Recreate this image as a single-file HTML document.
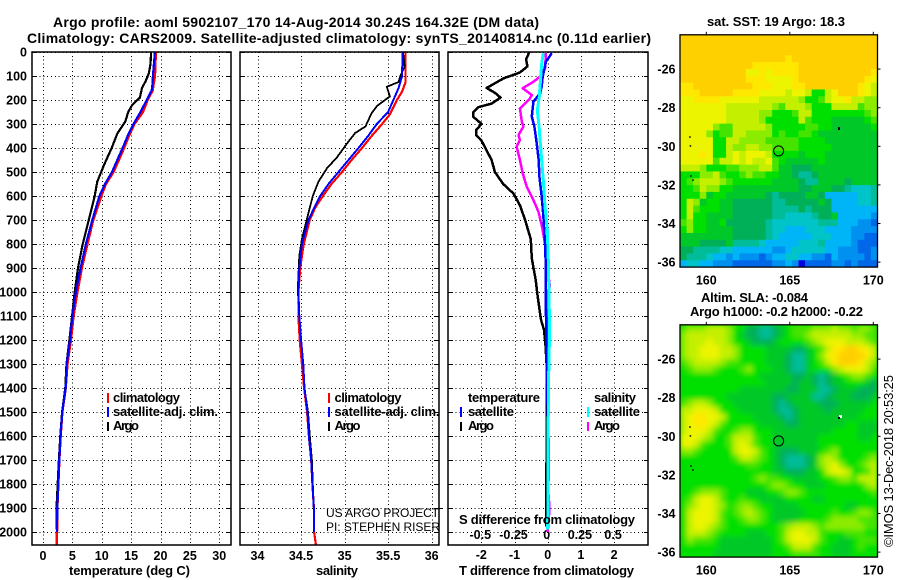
<!DOCTYPE html>
<html>
<head>
<meta charset="utf-8">
<title>Argo profile chart</title>
<style>
html,body{margin:0;padding:0;background:#fff;}
#chart{display:block;width:900px;height:580px;}
text{font-family:"Liberation Sans",sans-serif;fill:#000;}
.b{font-weight:bold;font-size:13px;}
.n{font-weight:bold;font-size:12.5px;}
.t{font-weight:bold;font-size:14px;}
.l{font-size:12px;}
.r{font-size:13px;}
</style>
</head>
<body>
<svg id="chart" xmlns="http://www.w3.org/2000/svg" width="900" height="580" viewBox="0 0 900 580">
<defs>
<clipPath id="clip-t"><rect x="32" y="52" width="199" height="493"/></clipPath>
<clipPath id="clip-s"><rect x="240" y="52" width="199" height="493"/></clipPath>
<clipPath id="clip-d"><rect x="448" y="52" width="200" height="493"/></clipPath>
<clipPath id="clip-sla"><rect x="680" y="324.8" width="197.5" height="232.3"/></clipPath>
<filter id="sla-smooth" filterUnits="userSpaceOnUse" x="660" y="305" width="240" height="275"><feGaussianBlur stdDeviation="2.6"/></filter>
</defs>
<rect x="0" y="0" width="900" height="580" fill="#fff"/>
<g id="maps"></g>
<g id="plots"></g>

<text class="t" x="53" y="27" textLength="486" lengthAdjust="spacing">Argo profile: aoml 5902107_170 14-Aug-2014 30.24S 164.32E (DM data)</text>
<text class="t" x="27" y="43" textLength="624" lengthAdjust="spacing">Climatology: CARS2009. Satellite-adjusted climatology: synTS_20140814.nc (0.11d earlier)</text>

<text class="b" x="69" y="575" textLength="121" lengthAdjust="spacing">temperature (deg C)</text>
<text class="b" x="316" y="575" textLength="42" lengthAdjust="spacing">salinity</text>
<text class="b" x="459" y="575" textLength="175" lengthAdjust="spacing">T difference from climatology</text>
<text class="b" x="459" y="524" textLength="176" lengthAdjust="spacing">S difference from climatology</text>

<g>
<rect x="107" y="393" width="2" height="10" fill="#f00"/>
<text class="b" x="113" y="402" textLength="67" lengthAdjust="spacing">climatology</text>
<rect x="107" y="407" width="2" height="10" fill="#00f"/>
<text class="b" x="113" y="416" textLength="105" lengthAdjust="spacing">satellite-adj. clim.</text>
<rect x="107" y="422" width="2" height="9" fill="#000"/>
<text class="b" x="113" y="430" textLength="26" lengthAdjust="spacing">Argo</text>
</g>
<g>
<rect x="328" y="393" width="2" height="10" fill="#f00"/>
<text class="b" x="334.5" y="402" textLength="67" lengthAdjust="spacing">climatology</text>
<rect x="328" y="407" width="2" height="10" fill="#00f"/>
<text class="b" x="334.5" y="416" textLength="105" lengthAdjust="spacing">satellite-adj. clim.</text>
<rect x="328" y="422" width="2" height="9" fill="#000"/>
<text class="b" x="334.5" y="430" textLength="26" lengthAdjust="spacing">Argo</text>
</g>
<g>
<text class="b" x="468" y="402" textLength="72" lengthAdjust="spacing">temperature</text>
<rect x="460" y="407" width="2" height="10" fill="#00f"/>
<text class="b" x="468" y="416" textLength="46" lengthAdjust="spacing">satellite</text>
<rect x="460" y="422" width="2" height="9" fill="#000"/>
<text class="b" x="468" y="430" textLength="26" lengthAdjust="spacing">Argo</text>
<text class="b" x="594" y="402" textLength="42" lengthAdjust="spacing">salinity</text>
<rect x="587" y="407" width="2" height="10" fill="#0ff"/>
<text class="b" x="594" y="416" textLength="46" lengthAdjust="spacing">satellite</text>
<rect x="587" y="422" width="2" height="9" fill="#f0f"/>
<text class="b" x="594" y="430" textLength="26" lengthAdjust="spacing">Argo</text>
</g>

<text class="l" x="326" y="517" textLength="113" lengthAdjust="spacing">US ARGO PROJECT</text>
<text class="l" x="326" y="531" textLength="114" lengthAdjust="spacing">PI: STEPHEN RISER</text>

<text class="b" x="707" y="26" textLength="138" lengthAdjust="spacing">sat. SST: 19 Argo: 18.3</text>
<text class="b" x="701" y="302" textLength="107" lengthAdjust="spacing">Altim. SLA: -0.084</text>
<text class="b" x="690" y="316" textLength="173" lengthAdjust="spacing">Argo h1000: -0.2 h2000: -0.22</text>
<text class="r" transform="translate(893,547) rotate(-90)" textLength="172" lengthAdjust="spacing">©IMOS 13-Dec-2018 20:53:25</text>
</svg>

<script>
/* ---------- profile data ---------- */
const depthLabels = [0,100,200,300,400,500,600,700,800,900,1000,1100,1200,1300,1400,1500,1600,1700,1800,1900,2000];
const tempTicks = [0,5,10,15,20,25,30];
const salTicks = [34,34.5,35,35.5,36];
const tDiffTicks = [-2,-1,0,1,2];
const sDiffTicks = [-0.5,-0.25,0,0.25,0.5];

const tempArgoDepth = [0,50,90,120,150,190,220,250,290,340,400,470,540,600,700,800,900,1000,1100,1200,1300,1400,1500,1600,1700,1800,1900,1990];
const tempArgo = [18.4,18.3,18.0,17.5,16.85,16.5,15.2,14.5,14,12.65,11.7,10.4,9.25,8.8,7.8,6.75,5.96,5.4,4.95,4.5,4.0,3.8,3.25,2.95,2.7,2.5,2.3,2.3];
const tempClimDepth = [0,100,130,160,200,250,300,350,400,500,550,600,700,800,900,1000,1100,1200,1300,1400,1500,1600,1700,1800,1900,2000,2054];
const tempClim = [19.2,19.05,18.85,18.65,17.8,17,15.55,14.6,13.8,12,10.7,9.9,8.55,7.55,6.6,5.85,5.2,4.75,4.15,3.86,3.29,3.0,2.78,2.6,2.44,2.38,2.3];
const tempSatDepth = [0,100,130,160,200,250,300,350,400,500,550,600,700,800,900,1000,1100,1200,1300,1400,1500,1600,1700,1800,1900,2000];
const tempSat = [19.05,18.7,18.65,18.5,17.65,16.6,15.4,14.4,13.55,11.75,10.55,9.6,8.4,7.3,6.4,5.6,5.0,4.6,4.03,3.86,3.29,3.0,2.78,2.6,2.44,2.38];

const salArgoDepth = [0,60,100,125,145,185,226,255,310,338,380,440,483,540,600,670,780,850,990,1100,1200,1300,1400,1500,1600,1700,1800,1900,1990];
const salArgo = [35.67,35.69,35.64,35.62,35.485,35.52,35.37,35.31,35.24,35.12,35.03,34.91,34.8,34.7,34.635,34.585,34.51,34.48,34.463,34.48,34.5,34.525,34.54,34.58,34.6,34.625,34.635,34.645,34.65];
const salClimDepth = [0,125,165,200,260,300,350,400,450,500,550,600,650,700,800,900,1000,1100,1200,1300,1400,1500,1600,1700,1800,1900,2000,2054];
const salClim = [35.7,35.7,35.66,35.6,35.52,35.43,35.31,35.2,35.08,34.97,34.85,34.75,34.66,34.6,34.53,34.49,34.47,34.47,34.485,34.51,34.535,34.57,34.59,34.616,34.63,34.647,34.65,34.67];
const salSatDepth = [0,100,150,200,250,300,350,400,450,500,550,600,650,700,800,900,1000,1100,1200,1300,1400,1500,1600,1700,1800,1900,2000];
const salSat = [35.665,35.66,35.62,35.56,35.5,35.37,35.27,35.16,35.045,34.93,34.815,34.72,34.65,34.585,34.51,34.48,34.47,34.48,34.5,34.525,34.54,34.574,34.59,34.616,34.63,34.647,34.65];

const tDiffArgoDepth = [0,30,60,85,110,150,170,190,215,230,250,270,300,325,345,370,410,450,500,550,590,640,700,780,860,950,1010,1090,1117,1158,1214,1311,1650,1867,1978];
const tDiffArgo = [-0.55,-0.65,-0.61,-0.83,-1.33,-1.84,-1.59,-1.42,-1.69,-2.09,-2.24,-2.24,-1.99,-2.16,-2.16,-1.99,-1.84,-1.69,-1.59,-1.34,-1.03,-0.83,-0.68,-0.51,-0.48,-0.36,-0.31,-0.23,-0.2,-0.11,-0.07,-0.03,-0.03,-0.05,-0.05];
const tDiffSatDepth = [5,40,103,144,172,207,269,311,380,450,519,603,686,797,880,1103,1200,1500,1990];
const tDiffSat = [0.12,-0.05,-0.15,-0.18,-0.23,-0.43,-0.48,-0.4,-0.33,-0.27,-0.25,-0.18,-0.13,-0.08,-0.06,-0.05,-0.05,0,0];
const sDiffArgoDepth = [5,68,103,124,151,179,193,235,290,311,346,367,394,450,505,561,617,665,721,797,853,908,975,1000,1400,1730,1780,1800,1870,1930,2000];
const sDiffArgo = [-0.0125,-0.02,-0.058,-0.108,-0.188,-0.12,-0.133,-0.209,-0.195,-0.183,-0.22,-0.209,-0.234,-0.209,-0.188,-0.158,-0.108,-0.07,-0.045,-0.02,-0.0125,-0.0025,0.0175,0,0,0.01,0.01,0,0.01,0.01,0];
const sDiffSatDepth = [5,47,186,242,311,422,533,644,742,880,1103,1200,1400,1990];
const sDiffSat = [-0.033,-0.045,-0.063,-0.078,-0.065,-0.05,-0.033,-0.02,-0.003,0.005,0.013,0.013,0.005,0];

/* ---------- map data: colour level per cell, 0 warm/high to 14 cool/low ---------- */
const mapLonTicks = [160,165,170];
const mapLatTicks = [-26,-28,-30,-32,-34,-36];
const floatLon = [164.33];
const floatLat = [-30.24];
const coastLon = [159.02,159.05,159.08,159.2];
const coastLat = [-29.52,-29.98,-31.54,-31.75];
const sstLevels = [
[0,0,0,0,0,0,0,0,0,0,0,0,0,0,0,0,0,0,0,0,0,0,0,0,0,0,0,0,0,0],
[0,0,0,0,0,0,0,0,0,0,0,0,0,0,0,0,0,0,0,0,0,0,0,0,0,0,0,0,0,0],
[0,0,0,0,0,0,0,0,0,0,0,0,0,0,0,0,0,0,0,0,0,0,0,0,0,0,0,0,0,0],
[0,0,0,0,0,0,0,0,0,0,0,0,0,0,0,0,1,0,0,0,0,0,0,0,0,0,0,0,0,0],
[0,0,0,0,0,0,0,0,0,0,0,1,1,1,1,1,1,1,0,0,0,0,0,0,0,0,0,0,0,0],
[0,0,0,0,0,0,0,0,0,0,2,2,1,2,1,1,1,1,0,0,0,0,0,0,0,0,0,0,0,1],
[0,0,0,0,0,0,0,0,0,0,1,1,1,2,2,2,2,1,0,0,0,0,0,0,0,0,0,0,1,2],
[1,1,0,0,0,0,0,0,0,0,0,1,1,1,2,2,2,1,1,0,0,0,0,0,0,0,0,1,2,3],
[1,1,1,0,0,0,0,0,1,1,1,1,2,2,2,2,3,2,2,3,6,6,3,2,0,0,0,1,2,3],
[2,2,1,1,1,1,2,2,2,2,2,2,3,3,3,3,3,3,4,6,6,5,3,2,2,1,3,3,4,4],
[2,2,2,2,2,2,2,3,3,3,3,3,3,3,4,5,3,3,3,4,6,6,6,3,3,3,3,5,4,4],
[2,2,2,2,2,2,2,3,3,3,3,3,4,4,6,6,6,5,3,3,6,6,6,6,6,6,6,6,5,4],
[2,2,2,2,2,2,2,3,3,3,3,3,4,6,6,6,6,6,3,5,6,6,6,7,7,7,7,7,6,5],
[2,2,2,2,2,4,5,5,3,3,3,3,3,4,6,6,6,6,6,5,5,6,6,7,7,7,7,7,7,6],
[2,2,2,2,4,6,5,5,3,3,4,4,4,4,6,5,6,6,5,5,6,7,7,7,7,7,7,7,7,7],
[2,2,2,2,2,6,6,3,3,4,4,4,4,5,5,5,5,5,6,6,6,6,7,7,7,7,7,7,7,7],
[2,2,2,2,2,6,6,3,4,4,3,3,4,4,5,5,5,5,6,6,6,6,6,7,7,7,7,7,7,7],
[2,2,2,1,2,6,6,3,2,3,2,2,2,3,6,6,6,6,7,6,6,6,7,7,7,7,7,7,7,7],
[2,2,2,2,2,5,3,3,2,3,2,3,3,2,5,6,7,7,7,7,7,6,7,7,7,7,7,7,7,7],
[3,3,3,4,6,6,6,5,5,4,4,4,3,3,5,7,7,8,8,8,7,7,7,7,7,7,7,7,7,7],
[6,6,6,4,4,3,5,6,6,5,4,5,5,6,6,7,7,8,9,9,8,7,7,7,7,7,7,7,7,7],
[6,5,4,3,3,3,4,5,6,6,6,6,6,6,7,7,7,7,8,9,9,7,7,7,7,8,7,7,7,7],
[6,6,5,3,4,4,6,6,7,7,7,7,7,7,7,7,7,7,8,8,7,7,7,8,8,9,10,10,10,9],
[6,6,6,4,7,6,6,7,7,7,7,7,7,8,9,8,8,8,8,7,7,8,11,11,11,11,11,10,10,9],
[6,3,4,7,6,6,7,7,8,8,8,8,8,8,9,9,8,8,8,8,8,7,8,11,11,11,11,10,10,9],
[6,3,5,6,6,6,7,7,8,8,8,8,8,8,9,9,9,9,8,9,8,8,8,11,11,11,11,11,11,11],
[6,3,6,6,7,7,7,7,8,8,8,8,8,8,9,9,10,10,10,10,9,8,8,7,11,11,11,11,11,12],
[5,4,6,6,7,7,6,8,8,8,8,8,8,9,10,10,10,10,10,10,10,9,9,9,11,11,11,12,12,13],
[6,4,6,6,7,7,7,7,8,8,8,8,8,9,10,10,11,11,11,10,10,10,11,11,11,11,12,12,12,12],
[7,7,7,7,7,7,7,7,8,8,8,8,8,9,10,11,11,11,11,11,10,10,10,11,11,11,12,12,13,13],
[7,7,7,8,8,8,8,7,9,9,9,9,10,11,11,11,11,11,10,10,10,9,11,11,11,11,12,13,13,13],
[8,8,9,9,9,9,10,10,11,11,11,11,11,11,12,12,11,10,10,10,10,10,11,11,12,12,12,13,13,12],
[8,9,9,9,10,11,11,12,11,12,12,12,13,12,11,11,10,10,11,11,12,12,13,11,12,12,12,12,13,12],
[11,10,10,11,11,12,12,12,13,13,13,13,13,13,12,12,11,12,14,13,13,13,13,12,12,13,12,13,13,13]
];
const slaLevels = [
[5,4,4,4,3,3,3,4,6,6,8,8,9,9,8,7,6,5,5,5,4,4,4,3,4,4,5,4,4,5],
[4,3,3,3,3,3,3,4,6,7,8,8,9,9,8,7,6,5,5,4,3,3,3,3,3,3,4,4,5,5],
[4,3,3,3,2,3,3,4,6,6,7,8,8,8,7,6,6,6,6,5,4,3,2,2,2,3,3,3,4,5],
[4,3,3,2,2,2,3,3,4,6,6,6,6,7,7,7,7,8,8,7,6,5,3,1,1,0,0,1,2,3],
[4,3,3,2,2,2,3,3,4,6,6,6,6,7,7,7,8,9,9,7,6,4,2,1,0,0,0,0,1,3],
[5,4,3,3,3,3,4,5,5,6,6,6,6,7,7,7,8,9,9,7,6,5,3,1,0,0,0,1,3,4],
[6,5,4,4,4,5,6,6,6,5,4,6,6,6,7,7,8,9,9,7,6,6,6,4,3,2,2,2,3,5],
[6,6,6,6,6,6,6,6,6,6,6,6,7,7,7,7,7,8,8,7,8,9,8,7,6,5,4,4,5,6],
[6,6,6,6,6,6,6,6,6,6,6,6,6,7,7,7,7,8,7,7,8,9,8,7,7,6,6,6,7,8],
[6,6,6,6,6,6,6,6,6,7,7,7,7,7,7,7,8,8,7,7,7,9,9,8,7,7,7,8,8,8],
[6,6,6,6,6,6,6,7,7,7,7,7,7,7,8,8,7,7,7,7,9,9,8,7,7,7,8,8,8,7],
[5,4,3,3,4,6,6,6,7,7,7,7,7,7,8,9,8,7,7,7,7,8,8,8,7,7,7,7,7,6],
[3,3,2,2,2,3,6,6,6,7,7,7,7,7,8,9,9,8,7,7,7,7,8,7,7,7,7,7,6,6],
[3,2,1,1,2,2,3,6,6,6,6,7,7,7,7,8,9,8,7,7,7,7,7,7,7,7,7,6,6,6],
[3,2,1,1,2,3,5,6,6,6,6,6,7,7,7,7,8,8,7,7,7,7,7,7,7,6,6,7,7,7],
[3,2,2,2,3,5,6,6,5,4,4,6,6,6,7,7,7,7,7,7,7,7,7,6,6,6,6,7,7,7],
[2,2,2,3,4,6,6,5,3,3,3,5,6,6,7,7,7,7,7,7,7,6,6,6,6,6,6,7,7,6],
[2,2,3,5,6,6,6,5,3,2,3,5,6,6,7,7,7,7,7,7,7,6,6,6,6,6,6,6,6,6],
[4,4,5,6,6,6,6,6,3,2,2,3,5,6,7,8,8,8,7,7,7,6,5,4,6,6,6,6,6,6],
[6,6,6,6,6,6,6,6,5,3,3,4,5,6,7,8,9,9,9,8,7,4,3,4,6,6,6,6,5,4],
[6,6,6,6,6,6,6,6,6,6,5,5,6,6,7,8,9,9,9,8,7,4,3,2,4,6,6,5,4,3],
[6,6,6,6,6,6,6,6,6,6,6,6,6,6,7,7,8,8,8,7,7,6,3,2,2,3,6,6,5,3],
[6,6,6,6,6,6,6,6,6,6,6,5,4,5,5,6,6,7,7,7,7,6,6,5,4,4,5,3,3,3],
[6,6,6,6,6,6,6,6,6,6,6,6,6,5,4,4,5,6,6,7,7,7,6,6,6,6,6,6,4,3],
[6,6,5,4,4,4,5,6,6,6,7,7,7,6,6,5,4,4,5,6,6,6,6,6,6,6,6,6,6,5],
[6,5,3,2,2,3,5,6,6,5,6,6,7,7,7,7,6,6,6,6,7,7,6,6,6,6,6,6,6,6],
[6,4,3,2,2,3,4,6,5,4,4,5,6,6,7,7,7,7,6,6,6,6,6,6,6,7,7,6,6,6],
[6,3,2,2,2,3,5,6,5,4,3,4,5,6,7,7,7,7,7,6,6,6,6,5,6,6,5,4,4,5],
[6,3,2,2,2,3,5,6,6,5,4,4,5,6,7,7,7,7,6,6,6,6,5,4,4,4,4,5,5,5],
[6,3,2,2,3,4,5,6,6,6,6,6,6,6,6,5,4,3,3,3,4,5,4,4,4,4,4,4,5,5],
[6,3,3,3,4,5,6,6,6,6,7,7,7,6,6,5,3,2,2,3,3,5,6,6,6,5,5,5,6,6],
[6,4,5,5,5,6,7,7,7,7,7,7,7,7,6,5,3,2,2,2,3,5,6,6,7,7,6,5,5,5],
[6,6,6,6,6,6,7,7,7,7,7,7,7,7,6,6,5,3,3,3,5,6,6,7,7,7,6,5,6,6],
[6,6,6,6,6,7,7,7,7,7,7,7,7,7,6,6,6,5,5,5,5,6,6,7,7,7,6,6,6,6]
];

/* ---------- scales ---------- */
const plotTop = 52, plotBottom = 545;
function yDepth(d){ return plotTop + 0.24 * d; }
function xTemp(v){ return 43 + 5.875 * v; }
function xSal(v){ return 257.5 + 87.1 * (v - 34); }
function xTDiff(v){ return 547.7 + 33.2 * v; }
function xSDiff(v){ return 547.7 + 132.8 * v; }
function mapX(lon){ return 706.3 + 16.7 * (lon - 160); }
function mapLatY(top, lat){ return top + 34.3 + 19.3 * (-26 - lat); }
function colourFor(level){
  const ramp = ['#ffd000','#ffe800','#ecf400','#c4f000','#8cec00','#44e400','#00e000','#00c828','#00b058','#00bc98','#00c4c8','#00b4f8','#0090f0','#0068e8','#0000e0'];
  return ramp[Math.max(0, Math.min(14, Math.round(level)))];
}

const NS = 'http://www.w3.org/2000/svg';
function mk(tag, attrs, parent){
  const el = document.createElementNS(NS, tag);
  for (const k in attrs) el.setAttribute(k, attrs[k]);
  parent.appendChild(el);
  return el;
}
const plots = document.getElementById('plots');
const maps = document.getElementById('maps');

/* ---------- panel frames, grids, tick labels ---------- */
function drawPanel(name, left, right, xTicks, xScale, xLabelY){
  const g = mk('g', {}, plots);
  
  
  depthLabels.forEach(function(d){
    const y = Math.round(yDepth(d)) + 0.5;
    const grid = mk('line', {x1:left, x2:right, y1:y, y2:y, stroke:'#000', 'stroke-width':1, 'stroke-dasharray':'1 2.8', 'shape-rendering':'crispEdges'}, g);
    
    
    const t1 = mk('line', {x1:left, x2:left + 4, y1:y, y2:y, stroke:'#000', 'stroke-width':1, 'shape-rendering':'crispEdges'}, g);
    
    
    const t2 = mk('line', {x1:right - 4, x2:right, y1:y, y2:y, stroke:'#000', 'stroke-width':1, 'shape-rendering':'crispEdges'}, g);
    
    
  });
  xTicks.forEach(function(v){
    const x = Math.round(xScale(v)) + 0.5;
    const grid = mk('line', {x1:x, x2:x, y1:plotTop, y2:plotBottom, stroke:'#000', 'stroke-width':1, 'stroke-dasharray':'1 2.8', 'shape-rendering':'crispEdges'}, g);
    
    
    const lab = mk('text', {x:xScale(v), y:xLabelY, 'text-anchor':'middle', 'class':'n'}, g);
    lab.textContent = String(v);
    
    
  });
}
function drawFrame(name, left, right){
  const f = mk('rect', {x:left, y:plotTop, width:right - left, height:plotBottom - plotTop, fill:'none', stroke:'#000', 'stroke-width':1.5}, plots);
  
  
}
function drawProfile(name, depths, values, xScale, colour, width, clip){
  const pts = depths.map(function(d, i){ return xScale(values[i]).toFixed(1) + ',' + yDepth(d).toFixed(1); }).join(' ');
  const line = mk('polyline', {points:pts, fill:'none', stroke:colour, 'stroke-width':width, 'clip-path':'url(#' + clip + ')', 'stroke-linejoin':'round', 'shape-rendering':'crispEdges'}, plots);
  
  
}

drawPanel('temperature', 32, 231, tempTicks, xTemp, 560);
drawPanel('salinity', 240, 439, salTicks, xSal, 560);
drawPanel('difference', 448, 648, tDiffTicks, xTDiff, 559);

sDiffTicks.forEach(function(v){
  const lab = mk('text', {x:xSDiff(v) - 1, y:539, 'text-anchor':'middle', 'class':'n'}, plots);
  lab.textContent = String(v);
  
  
});
depthLabels.forEach(function(d){
  const lab = mk('text', {x:27, y:yDepth(d) + 4.5, 'text-anchor':'end', 'class':'n'}, plots);
  lab.textContent = String(d);
  
  
});
const strayTick = mk('line', {x1:439, x2:443, y1:508.5, y2:508.5, stroke:'#000', 'stroke-width':1}, plots);



drawProfile('temperature-climatology-line', tempClimDepth, tempClim, xTemp, '#f00', 2.5, 'clip-t');
drawProfile('temperature-argo-line', tempArgoDepth, tempArgo, xTemp, '#000', 2.2, 'clip-t');
drawProfile('temperature-satellite-line', tempSatDepth, tempSat, xTemp, '#00f', 2.2, 'clip-t');
drawProfile('salinity-climatology-line', salClimDepth, salClim, xSal, '#f00', 2.2, 'clip-s');
drawProfile('salinity-argo-line', salArgoDepth, salArgo, xSal, '#000', 1.8, 'clip-s');
drawProfile('salinity-satellite-line', salSatDepth, salSat, xSal, '#00f', 2, 'clip-s');
drawProfile('t-difference-argo-line', tDiffArgoDepth, tDiffArgo, xTDiff, '#000', 2.5, 'clip-d');
drawProfile('s-difference-argo-line', sDiffArgoDepth, sDiffArgo, xSDiff, '#f0f', 2.5, 'clip-d');
drawProfile('t-difference-satellite-line', tDiffSatDepth, tDiffSat, xTDiff, '#00f', 2.5, 'clip-d');
drawProfile('s-difference-satellite-line', sDiffSatDepth, sDiffSat, xSDiff, '#0ff', 3, 'clip-d');

drawFrame('temperature', 32, 231);
drawFrame('salinity', 240, 439);
drawFrame('difference', 448, 648);

/* ---------- maps ---------- */
function drawMap(name, top, levels, smooth){
  const left = 680, right = 877.5, height = 232.3;
  const rows = levels.length, cols = levels[0].length;
  const cw = (right - left) / cols, ch = height / rows;
  const g = mk('g', {}, maps);
  
  
  const clipWrap = mk('g', smooth ? {'clip-path':'url(#clip-sla)'} : {}, g);
  
  
  const back = mk('rect', {x:left, y:top, width:right - left, height:height, fill:colourFor(6)}, clipWrap);
  
  
  const field = mk('g', smooth ? {filter:'url(#sla-smooth)'} : {}, clipWrap);
  
  
  levels.forEach(function(row, r){
    row.forEach(function(level, c){
      const cell = mk('rect', {x:(left + c * cw).toFixed(2), y:(top + r * ch).toFixed(2), width:(cw + 0.4).toFixed(2), height:(ch + 0.4).toFixed(2), fill:colourFor(level)}, field);
      
      
    });
  });
  const frame = mk('rect', {x:left, y:top, width:right - left, height:height, fill:'none', stroke:'#000', 'stroke-width':1.3}, g);
  
  
  mapLonTicks.forEach(function(lon){
    const x = mapX(lon);
    const tick = mk('line', {x1:x, x2:x, y1:top - 3, y2:top, stroke:'#000', 'stroke-width':1}, g);
    
    
    const lab = mk('text', {x:x, y:top + 249.5, 'text-anchor':'middle', 'class':'n'}, g);
    lab.textContent = String(lon);
    
    
  });
  mapLatTicks.forEach(function(lat){
    const y = mapLatY(top, lat);
    const tick = mk('line', {x1:right, x2:right + 3, y1:y, y2:y, stroke:'#000', 'stroke-width':1}, g);
    
    
    const lab = mk('text', {x:675.5, y:y + 4.5, 'text-anchor':'end', 'class':'n'}, g);
    lab.textContent = String(lat);
    
    
  });
  coastLon.forEach(function(lon, i){
    const dot = mk('rect', {x:mapX(lon) - 0.75, y:mapLatY(top, coastLat[i]) - 0.75, width:1.5, height:1.5, fill:'#000'}, g);
    
    
  });
  floatLon.forEach(function(lon, i){
    const marker = mk('circle', {cx:mapX(lon), cy:mapLatY(top, floatLat[i]), r:5, fill:'none', stroke:'#000', 'stroke-width':1}, g);
    
    
  });
}
drawMap('sst', 34.8, sstLevels, false);
drawMap('sla', 324.8, slaLevels, true);

const slaWhite = mk('rect', {x:839, y:415, width:3, height:3, fill:'#fff'}, maps);


const slaIsland = mk('rect', {x:838, y:417, width:2, height:2, fill:'#000'}, maps);


const sstIsland = mk('rect', {x:838, y:127, width:2, height:3, fill:'#000'}, maps);


</script>
</body>
</html>
